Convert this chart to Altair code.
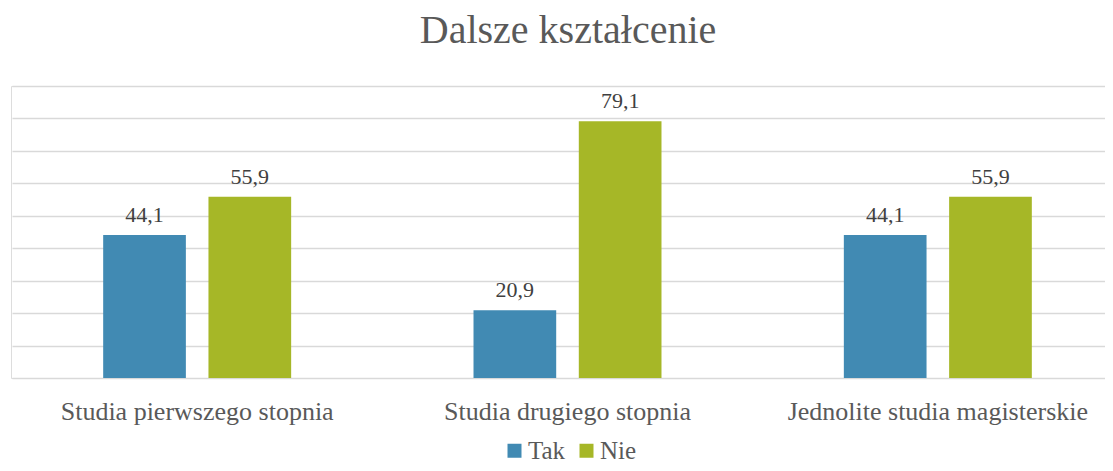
import altair as alt
import pandas as pd

categories = ["Studia pierwszego stopnia", "Studia drugiego stopnia", "Jednolite studia magisterskie"]
series = ["Tak", "Nie"]
tak = [44.1, 20.9, 44.1]
nie = [55.9, 79.1, 55.9]
colors = ["#418AB3", "#A6B727"]

rows = []
for c, t, n in zip(categories, tak, nie):
    rows.append({"kategoria": c, "seria": "Tak", "wartosc": t})
    rows.append({"kategoria": c, "seria": "Nie", "wartosc": n})
df = pd.DataFrame(rows)

FONT = "Liberation Serif"
W = 1094
H = 292

x = alt.X(
    "kategoria:N", sort=categories,
    scale=alt.Scale(range=[1, 1112], paddingInner=0.4924, paddingOuter=0.2462),
    axis=alt.Axis(title=None, labelAngle=0, labelFontSize=26, labelColor="#595959",
                  labelFont=FONT, domain=False, ticks=False, labelPadding=20, grid=False,
                  labelLimit=0),
)
xo = alt.XOffset("seria:N", sort=series, scale=alt.Scale(paddingInner=0.2146, paddingOuter=0))
y = alt.Y(
    "wartosc:Q", scale=alt.Scale(domain=[0, 90]),
    axis=alt.Axis(title=None, labels=False, ticks=False, domain=False,
                  values=list(range(0, 91, 10)), gridColor="#d9d9d9", gridWidth=1.5),
)
color = alt.Color(
    "seria:N", sort=series,
    scale=alt.Scale(domain=series, range=colors),
    legend=alt.Legend(orient="none", legendX=491, legendY=352, direction="horizontal",
                      symbolType="square", symbolSize=196, symbolStrokeWidth=0,
                      labelFontSize=25, labelFont=FONT, labelColor="#595959",
                      title=None, columnPadding=8, labelOffset=1),
)

base = alt.Chart(df).encode(x=x, xOffset=xo, y=y)
bars = base.mark_bar().encode(color=color)
text = base.transform_calculate(
    label="replace(format(datum.wartosc, '.1f'), '.', ',')"
).mark_text(dy=-13, baseline="alphabetic", font=FONT, fontSize=22, color="#404040").encode(
    text="label:N"
)

chart = alt.layer(bars, text).properties(
    width=W, height=H,
    title=alt.TitleParams("Dalsze kształcenie", font=FONT, fontSize=40, color="#595959",
                          fontWeight="normal", anchor="middle", offset=35, dx=10),
    autosize="none",
    padding={"left": 3, "top": 78, "right": 0, "bottom": 85},
).configure_view(stroke="transparent", strokeWidth=0).configure(background="white")

chart.save("out.html", embed_options={"renderer": "svg", "actions": False})
